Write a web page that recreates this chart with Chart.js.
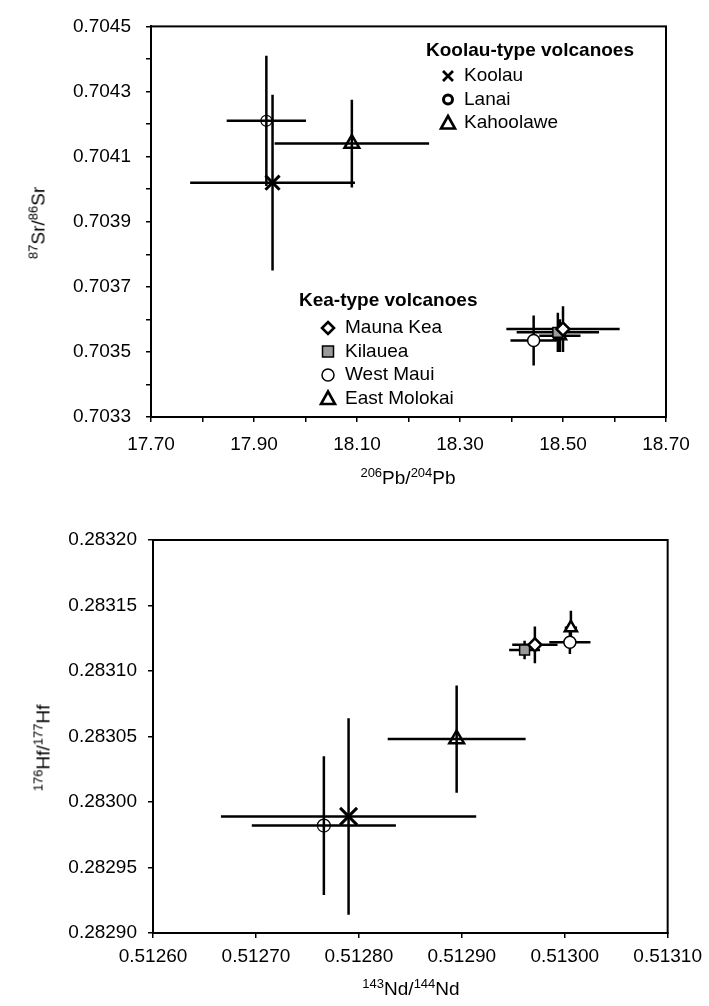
<!DOCTYPE html>
<html>
<head>
<meta charset="utf-8">
<script src="https://cdn.jsdelivr.net/npm/chart.js@4.4.0/dist/chart.umd.min.js"></script>
<style>
  body { margin: 0; background: #fff; width: 709px; height: 1006px; position: relative; overflow: hidden;
         font-family: "Liberation Sans", Arial, sans-serif; }
  canvas { position: absolute; left: 0; }
  #srPb { top: 0; }
  #hfNd { top: 500px; }
  .ttl { position: absolute; font-size: 19px; color: #000; white-space: nowrap; line-height: 1;
         transform: translate(-50%, -50%); }
  .ttl sup { font-size: 13px; vertical-align: 7px; line-height: 0; }
  .rot { transform: translate(-50%, -50%) rotate(-90deg); }
</style>
</head>
<body>
<canvas id="srPb" width="709" height="480"></canvas>
<canvas id="hfNd" width="709" height="506"></canvas>

<div class="ttl rot" style="left:38px; top:223px;"><sup>87</sup>Sr/<sup>86</sup>Sr</div>
<div class="ttl" style="left:408px; top:477px;"><sup>206</sup>Pb/<sup>204</sup>Pb</div>
<div class="ttl rot" style="left:43px; top:748px;"><sup>176</sup>Hf/<sup>177</sup>Hf</div>
<div class="ttl" style="left:411px; top:988px;"><sup>143</sup>Nd/<sup>144</sup>Nd</div>

<script>
const volcanoes = ["Koolau", "Lanai", "Kahoolawe", "Mauna Kea", "Kilauea", "West Maui", "East Molokai"];
const koolauType = ["Koolau", "Lanai", "Kahoolawe"];
const keaType = ["Mauna Kea", "Kilauea", "West Maui", "East Molokai"];

// top panel: 206Pb/204Pb vs 87Sr/86Sr
const pb206 = [17.936, 17.924, 18.09, 18.5, 18.49, 18.443, 18.494];
const pbErr = [0.16, 0.077, 0.15, 0.11, 0.08, 0.045, 0.04];
const sr87 = [0.70402, 0.70421, 0.70414, 0.70357, 0.70356, 0.703535, 0.70355];
const srErr = [0.00027, 0.0002, 0.000135, 0.00007, 0.00006, 0.000077, 0.00005];

// bottom panel: 143Nd/144Nd vs 176Hf/177Hf
const nd143 = [0.51279, 0.512766, 0.512895, 0.512971, 0.512961, 0.513005, 0.513006];
const ndErr = [0.000124, 0.00007, 0.000067, 0.000022, 0.000015, 0.00002, 0.000006];
const hf176 = [0.282989, 0.282982, 0.283048, 0.28312, 0.283116, 0.283122, 0.283133];
const hfErr = [0.000075, 0.000053, 0.000041, 0.000014, 0.000007, 0.000009, 0.000013];

const pbRange = [17.7, 18.7];
const srRange = [0.7033, 0.7045];
const ndRange = [0.5126, 0.5131];
const hfRange = [0.2829, 0.2832];

const FONT = '"Liberation Sans", Arial, sans-serif';

// marker look per volcano
const marks = {
    "Koolau": { pointStyle: "crossRot", radius: 10, borderWidth: 3, backgroundColor: "rgba(0,0,0,0)" },
    "Lanai": { pointStyle: "circle", radius: 5.5, borderWidth: 1.2, backgroundColor: "rgba(0,0,0,0)" },
    "Kahoolawe": { pointStyle: "triangle", radius: 8.5, borderWidth: 2.5, backgroundColor: "rgba(0,0,0,0)" },
    "Mauna Kea": { pointStyle: "rectRot", radius: 6.5, borderWidth: 2.5, backgroundColor: "#fff" },
    "Kilauea": { pointStyle: "rect", radius: 7, borderWidth: 1.5, backgroundColor: "#9a9a9a" },
    "West Maui": { pointStyle: "circle", radius: 6, borderWidth: 1.5, backgroundColor: "#fff" },
    "East Molokai": { pointStyle: "triangle", radius: 7, borderWidth: 2.5, backgroundColor: "#fff" },
};

function buildDatasets(xs, xErr, ys, yErr, big) {
    return volcanoes.map((name, i) => {
        const m = marks[name];
        let r = m.radius;
        if (big && name === "Koolau") r = 12;
        if (big && name === "Lanai") r = 6.5;
        return {
            label: name,
            data: [{ x: xs[i], y: ys[i], xErr: xErr[i], yErr: yErr[i] }],
            pointStyle: m.pointStyle,
            pointRadius: r,
            pointBorderWidth: m.borderWidth,
            pointBorderColor: "#000",
            pointBackgroundColor: m.backgroundColor,
        };
    });
}

// error bars drawn under the markers
const errorBars = {
    id: "errorBars",
    beforeDatasetsDraw(chart) {
        const { ctx } = chart;
        const x = chart.scales.x;
        const y = chart.scales.y;
        ctx.save();
        ctx.strokeStyle = "#000";
        ctx.lineWidth = 2.5;
        chart.data.datasets.forEach((ds) => {
            const p = ds.data[0];
            const px = x.getPixelForValue(p.x);
            const py = y.getPixelForValue(p.y);
            ctx.beginPath();
            ctx.moveTo(x.getPixelForValue(p.x - p.xErr), py);
            ctx.lineTo(x.getPixelForValue(p.x + p.xErr), py);
            ctx.moveTo(px, y.getPixelForValue(p.y - p.yErr));
            ctx.lineTo(px, y.getPixelForValue(p.y + p.yErr));
            ctx.stroke();
        });
        ctx.restore();
    },
};

const frame = {
    id: "frame",
    afterDraw(chart) {
        const { ctx, chartArea: a } = chart;
        ctx.save();
        ctx.strokeStyle = "#000";
        ctx.lineWidth = 2;
        ctx.strokeRect(a.left, a.top, a.right - a.left, a.bottom - a.top);
        ctx.restore();
    },
};

function drawMark(ctx, name, x, y) {
    ctx.save();
    ctx.strokeStyle = "#000";
    ctx.fillStyle = "#fff";
    ctx.beginPath();
    if (name === "Koolau") {
        ctx.lineWidth = 2.8;
        ctx.moveTo(x - 5, y - 5); ctx.lineTo(x + 5, y + 5);
        ctx.moveTo(x + 5, y - 5); ctx.lineTo(x - 5, y + 5);
        ctx.stroke();
    } else if (name === "Lanai") {
        ctx.lineWidth = 3;
        ctx.arc(x, y, 4.5, 0, Math.PI * 2);
        ctx.stroke();
    } else if (name === "Kahoolawe" || name === "East Molokai") {
        ctx.lineWidth = 2.6;
        ctx.moveTo(x, y - 7); ctx.lineTo(x + 7, y + 5.5); ctx.lineTo(x - 7, y + 5.5); ctx.closePath();
        ctx.fill(); ctx.stroke();
    } else if (name === "Mauna Kea") {
        ctx.lineWidth = 2.6;
        ctx.moveTo(x, y - 6); ctx.lineTo(x + 6, y); ctx.lineTo(x, y + 6); ctx.lineTo(x - 6, y); ctx.closePath();
        ctx.fill(); ctx.stroke();
    } else if (name === "Kilauea") {
        ctx.lineWidth = 1.5;
        ctx.fillStyle = "#9a9a9a";
        ctx.rect(x - 5.5, y - 5.5, 11, 11);
        ctx.fill(); ctx.stroke();
    } else if (name === "West Maui") {
        ctx.lineWidth = 1.5;
        ctx.arc(x, y, 6, 0, Math.PI * 2);
        ctx.fill(); ctx.stroke();
    }
    ctx.restore();
}

// two grouped legends inside the top panel
const groupLegend = {
    id: "groupLegend",
    afterDraw(chart, args, opts) {
        if (!opts.groups) return;
        const { ctx } = chart;
        ctx.save();
        ctx.fillStyle = "#000";
        ctx.textBaseline = "middle";
        opts.groups.forEach((g) => {
            ctx.font = "bold 19px " + FONT;
            ctx.fillText(g.title, g.x, g.y);
            ctx.font = "19px " + FONT;
            g.names.forEach((n, i) => {
                const ry = g.y + g.first + i * g.step;
                drawMark(ctx, n, g.symX, ry);
                ctx.fillText(n, g.textX, ry);
            });
        });
        ctx.restore();
    },
};

function axisOpts(range, step, digits, fixedSize, horizontal, padding, labelled) {
    return {
        type: "linear",
        min: range[0],
        max: range[1],
        afterFit(scale) {
            if (horizontal) scale.height = fixedSize;
            else scale.width = fixedSize;
        },
        grid: { drawOnChartArea: false, drawTicks: true, tickLength: 5, color: "#000", lineWidth: 1.5 },
        border: { display: true, color: "#000", width: 2 },
        ticks: {
            stepSize: step,
            autoSkip: false,
            maxRotation: 0,
            padding: padding,
            color: "#000",
            font: { family: FONT, size: 19 },
            callback: (v) => (labelled(v) ? v.toFixed(digits) : ""),
        },
    };
}

new Chart(document.getElementById("srPb"), {
    type: "scatter",
    data: { datasets: buildDatasets(pb206, pbErr, sr87, srErr, false) },
    options: {
        responsive: false,
        animation: false,
        layout: { padding: { top: 24, right: 43, left: 0, bottom: 0 } },
        scales: {
            x: axisOpts(pbRange, 0.1, 2, 63, true, 11, (v) => Math.round(v * 10) % 2 === 1),
            y: axisOpts(srRange, 0.0001, 4, 151, false, 15, (v) => Math.round(v * 10000) % 2 === 1),
        },
        plugins: {
            legend: { display: false },
            tooltip: { enabled: false },
            groupLegend: {
                groups: [
                    { title: "Koolau-type volcanoes", names: koolauType, x: 426, y: 51, first: 25, step: 23.5, symX: 448, textX: 464 },
                    { title: "Kea-type volcanoes", names: keaType, x: 299, y: 301, first: 27, step: 23.5, symX: 328, textX: 345 },
                ],
            },
        },
    },
    plugins: [errorBars, frame, groupLegend],
});

new Chart(document.getElementById("hfNd"), {
    type: "scatter",
    data: { datasets: buildDatasets(nd143, ndErr, hf176, hfErr, true) },
    options: {
        responsive: false,
        animation: false,
        layout: { padding: { top: 40, right: 38, left: 0, bottom: 0 } },
        scales: {
            x: axisOpts(ndRange, 0.0001, 5, 73, true, 7, () => true),
            y: axisOpts(hfRange, 0.00005, 5, 153, false, 11, () => true),
        },
        plugins: { legend: { display: false }, tooltip: { enabled: false } },
    },
    plugins: [errorBars, frame],
});
</script>
</body>
</html>
